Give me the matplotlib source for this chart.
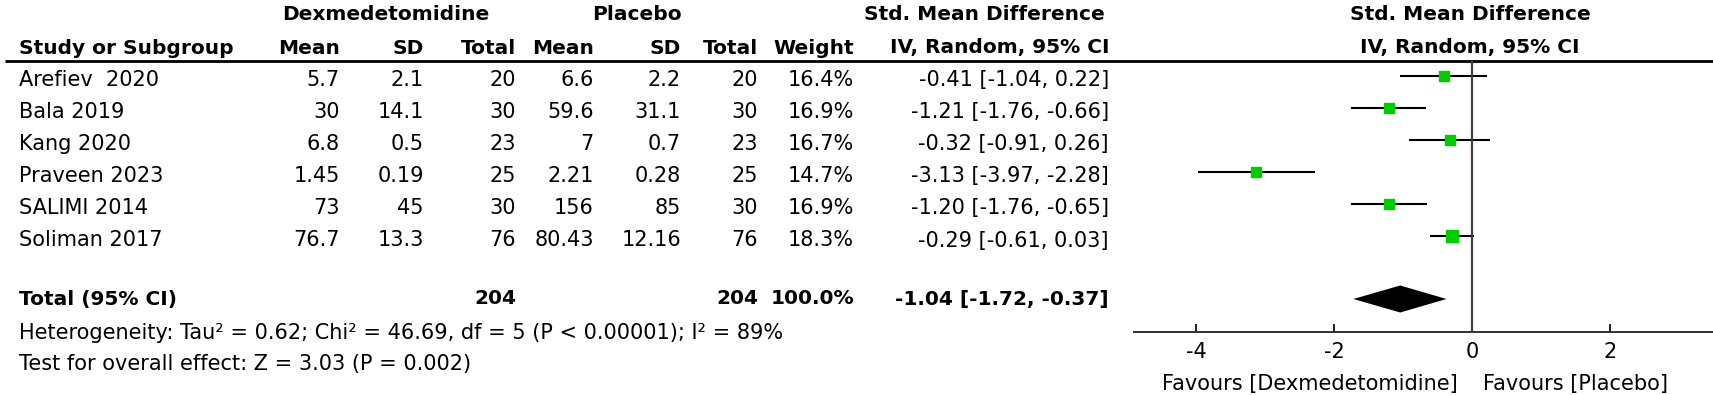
import numpy as np
import matplotlib
matplotlib.use("Agg")
from matplotlib import pyplot as plt

# study data
studies = ["Arefiev  2020", "Bala 2019", "Kang 2020", "Praveen 2023", "SALIMI 2014", "Soliman 2017"]
dex_mean = [5.7, 30, 6.8, 1.45, 73, 76.7]
dex_sd = [2.1, 14.1, 0.5, 0.19, 45, 13.3]
dex_n = [20, 30, 23, 25, 30, 76]
pla_mean = [6.6, 59.6, 7, 2.21, 156, 80.43]
pla_sd = [2.2, 31.1, 0.7, 0.28, 85, 12.16]
pla_n = [20, 30, 23, 25, 30, 76]
weight = [16.4, 16.9, 16.7, 14.7, 16.9, 18.3]
smd = [-0.41, -1.21, -0.32, -3.13, -1.20, -0.29]
ci_lo = [-1.04, -1.76, -0.91, -3.97, -1.76, -0.61]
ci_hi = [0.22, -0.66, 0.26, -2.28, -0.65, 0.03]

tot_dex_n = 204
tot_pla_n = 204
tot_weight = 100.0
tot_smd = -1.04
tot_lo = -1.72
tot_hi = -0.37

het_text = "Heterogeneity: Tau² = 0.62; Chi² = 46.69, df = 5 (P < 0.00001); I² = 89%"
test_text = "Test for overall effect: Z = 3.03 (P = 0.002)"
ticks = [-4, -2, 0, 2]

W, H = 1713, 395
FS = 15
FB = 14.5
plt.rcParams['font.family'] = ['DejaVu Sans']

fig = plt.figure(figsize=(W / 100, H / 100), dpi=100)

# text table, pixel coordinates
tab = fig.add_axes([0, 0, 1, 1])
tab.set_xlim(0, W)
tab.set_ylim(H, 0)
tab.axis('off')

row0, dy = 76, 32.1
ytxt = [row0 + dy * i + 4 for i in range(len(studies))]
y_tot = 299

# header
tab.text(386, 15, "Dexmedetomidine", ha='center', va='center', fontsize=FB, fontweight='bold')
tab.text(637, 15, "Placebo", ha='center', va='center', fontsize=FB, fontweight='bold')
tab.text(984, 15, "Std. Mean Difference", ha='center', va='center', fontsize=FB, fontweight='bold')
tab.text(1470, 15, "Std. Mean Difference", ha='center', va='center', fontsize=FB, fontweight='bold')
tab.text(1470, 48, "IV, Random, 95% CI", ha='center', va='center', fontsize=FB, fontweight='bold')

cols = [340, 424, 516, 594, 681, 758, 854, 1109]
heads = ["Mean", "SD", "Total", "Mean", "SD", "Total", "Weight", "IV, Random, 95% CI"]
tab.text(19, 48, "Study or Subgroup", ha='left', va='center', fontsize=FB, fontweight='bold')
for x, h in zip(cols, heads):
    tab.text(x, 48, h, ha='right', va='center', fontsize=FB, fontweight='bold')

tab.plot([5, W], [61, 61], color='black', lw=2, solid_capstyle='butt')

for i, name in enumerate(studies):
    y = ytxt[i]
    vals = [f"{dex_mean[i]:g}", f"{dex_sd[i]:g}", f"{dex_n[i]}",
            f"{pla_mean[i]:g}", f"{pla_sd[i]:g}", f"{pla_n[i]}",
            f"{weight[i]:.1f}%",
            f"{smd[i]:.2f} [{ci_lo[i]:.2f}, {ci_hi[i]:.2f}]"]
    tab.text(19, y, name, ha='left', va='center', fontsize=FS)
    for x, v in zip(cols, vals):
        tab.text(x, y, v, ha='right', va='center', fontsize=FS)

tab.text(19, y_tot, "Total (95% CI)", ha='left', va='center', fontsize=FB, fontweight='bold')
tot_vals = {cols[2]: f"{tot_dex_n}", cols[5]: f"{tot_pla_n}", cols[6]: f"{tot_weight:.1f}%",
            cols[7]: f"{tot_smd:.2f} [{tot_lo:.2f}, {tot_hi:.2f}]"}
for x, v in tot_vals.items():
    tab.text(x, y_tot, v, ha='right', va='center', fontsize=FB, fontweight='bold')

tab.text(19, 333, het_text, ha='left', va='center', fontsize=FS)
tab.text(19, 364, test_text, ha='left', va='center', fontsize=FS)

tab.text(1458, 384, "Favours [Dexmedetomidine]", ha='right', va='center', fontsize=FS)
tab.text(1483, 384, "Favours [Placebo]", ha='left', va='center', fontsize=FS)

# forest plot axes: from x=1134 to right edge, y from header rule to axis line
x0, x1 = 1134, W
ytop, ybot = 61, 332
ax = fig.add_axes([x0 / W, 1 - ybot / H, (x1 - x0) / W, (ybot - ytop) / H])
ax.patch.set_alpha(0)
ppu = 69.0
ax.set_xlim((x0 - 1472) / ppu, (x1 - 1472) / ppu)
ax.set_ylim((ybot - row0) / dy, (ytop - row0) / dy)

rows = np.arange(len(studies))
ax.hlines(rows, ci_lo, ci_hi, color='black', lw=1.5)
for r, m, w in zip(rows, smd, weight):
    side = 0.62 * w
    ax.plot(m, r, marker='s', ms=side * 0.72, color='#00cc00', mec='#00cc00', lw=0)

tot_row = (y_tot - row0) / dy
half = 13.5 / dy
ax.fill([tot_lo, tot_smd, tot_hi, tot_smd], [tot_row, tot_row - half, tot_row, tot_row + half],
        color='black', lw=0)

ax.axvline(0, color='#404040', lw=1.6)

for s in ['top', 'left', 'right']:
    ax.spines[s].set_visible(False)
ax.spines['bottom'].set_color('#303030')
ax.spines['bottom'].set_linewidth(1.4)
ax.set_yticks([])
ax.set_xticks(ticks)
ax.set_xticklabels([str(t) for t in ticks], fontsize=FS)
ax.tick_params(axis='x', direction='in', length=6, width=1.4, color='#202020', pad=7)

fig.savefig("out.png", dpi=100)
